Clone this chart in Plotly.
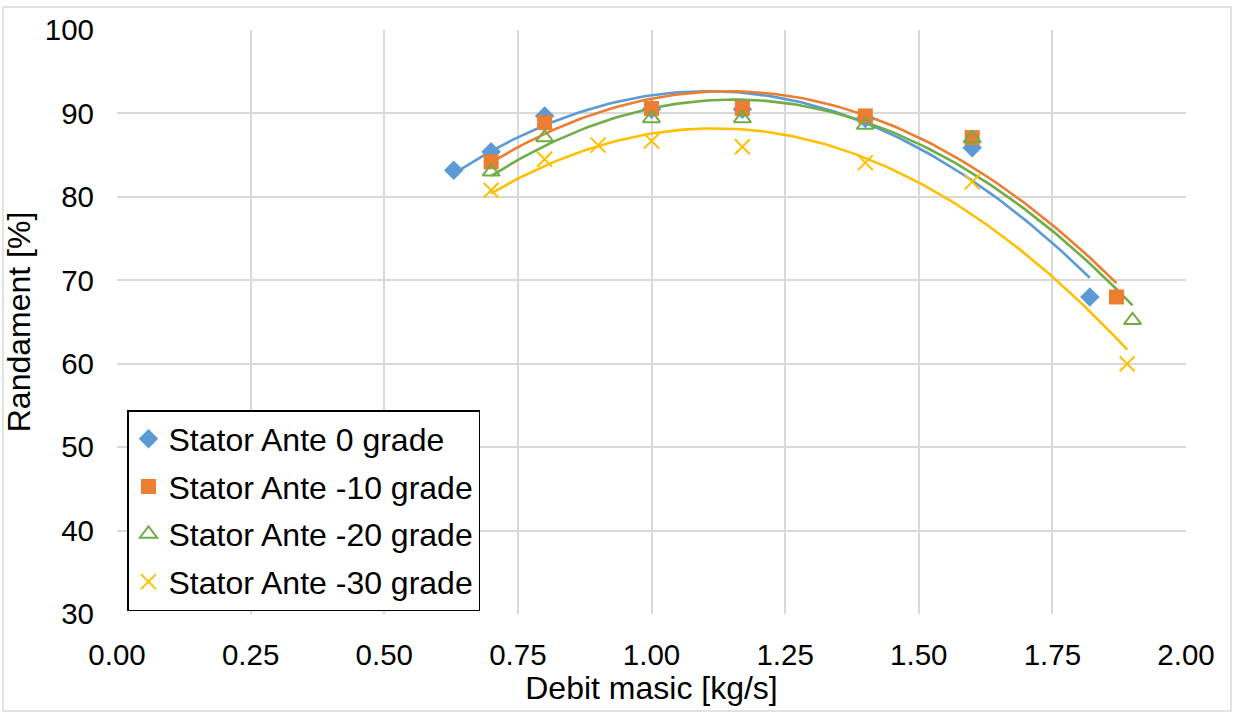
import numpy as np
import plotly.graph_objects as go

# ---- data ----
names = ["Stator Ante 0 grade", "Stator Ante -10 grade",
         "Stator Ante -20 grade", "Stator Ante -30 grade"]
x_s0 = [0.63, 0.70, 0.80, 1.00, 1.17, 1.40, 1.60, 1.82]
y_s0 = [83.2, 85.4, 89.7, 90.5, 90.5, 89.4, 85.9, 68.0]
x_s10 = [0.70, 0.80, 1.00, 1.17, 1.40, 1.60, 1.87]
y_s10 = [84.2, 88.9, 90.6, 90.6, 89.7, 87.1, 68.0]
x_s20 = [0.70, 0.80, 1.00, 1.17, 1.40, 1.60, 1.90]
y_s20 = [83.0, 87.1, 89.4, 89.4, 88.6, 87.0, 65.2]
x_s30 = [0.70, 0.80, 0.90, 1.00, 1.17, 1.40, 1.60, 1.89]
y_s30 = [80.8, 84.5, 86.2, 86.7, 86.0, 84.1, 81.8, 60.0]
x_ticks = [0.00, 0.25, 0.50, 0.75, 1.00, 1.25, 1.50, 1.75, 2.00]
y_ticks = [30, 40, 50, 60, 70, 80, 90, 100]

colors = ["#5B9BD5", "#ED7D31", "#70AD47", "#FFC000"]
symbols = ["diamond", "square", "triangle-up-open", "x-thin-open"]
sizes = [15, 15, 15, 15]

series = [(x_s0, y_s0), (x_s10, y_s10), (x_s20, y_s20), (x_s30, y_s30)]

W, H = 1233, 713
ml, mr, mt, mb = 117, 47, 30, 99

fig = go.Figure()
for i, (xs, ys) in enumerate(series):
    # polynomial (order 2) trendline computed from the data
    c = np.polyfit(xs, ys, 2)
    xf = np.linspace(min(xs), max(xs), 120)
    fig.add_trace(go.Scatter(x=xf, y=np.polyval(c, xf), mode="lines",
                             line=dict(color=colors[i], width=2.6),
                             showlegend=False, hoverinfo="skip",
                             legendgroup=f"g{i}"))
for i, (xs, ys) in enumerate(series):
    fig.add_trace(go.Scatter(
        x=xs, y=ys, mode="markers", name=names[i], legendgroup=f"g{i}",
        marker=dict(symbol=symbols[i], size=sizes[i], color=colors[i],
                    line=dict(color=colors[i], width=2 if i >= 2 else 0))))

pw = W - ml - mr
ph = H - mt - mb
fig.add_shape(type="rect", xref="paper", yref="paper",
              x0=(3 - ml) / pw, x1=(1231 - ml) / pw,
              y0=(H - mb - 711) / ph, y1=(H - mb - 7) / ph,
              line=dict(color="#D9D9D9", width=1.5), layer="below")

font = "Liberation Sans, Arial, sans-serif"
fig.update_layout(
    width=W, height=H,
    margin=dict(l=ml, r=mr, t=mt, b=mb, autoexpand=False),
    paper_bgcolor="white", plot_bgcolor="white",
    font=dict(family=font, color="black"),
    legend=dict(x=(127 - ml) / pw, y=(H - mb - 410) / ph,
                xanchor="left", yanchor="top",
                bordercolor="black", borderwidth=1.5,
                bgcolor="white", font=dict(size=32, family=font),
                tracegroupgap=3, itemwidth=30),
    xaxis=dict(range=[0, 2], tickvals=x_ticks, tickformat=".2f",
               showgrid=True, gridcolor="#D9D9D9", gridwidth=1.5,
               zeroline=False, showline=False, ticks="",
               tickfont=dict(size=29.5), ticklabelstandoff=20,
               title=dict(text="Debit masic [kg/s]", font=dict(size=32),
                          standoff=4)),
    yaxis=dict(range=[30, 100], tickvals=y_ticks,
               showgrid=True, gridcolor="#D9D9D9", gridwidth=1.5,
               zeroline=False, showline=False, ticks="",
               tickfont=dict(size=29.5), ticklabelstandoff=22,
               title=dict(text="Randament [%]", font=dict(size=32),
                          standoff=4)),
)
fig.write_html("out.html")
